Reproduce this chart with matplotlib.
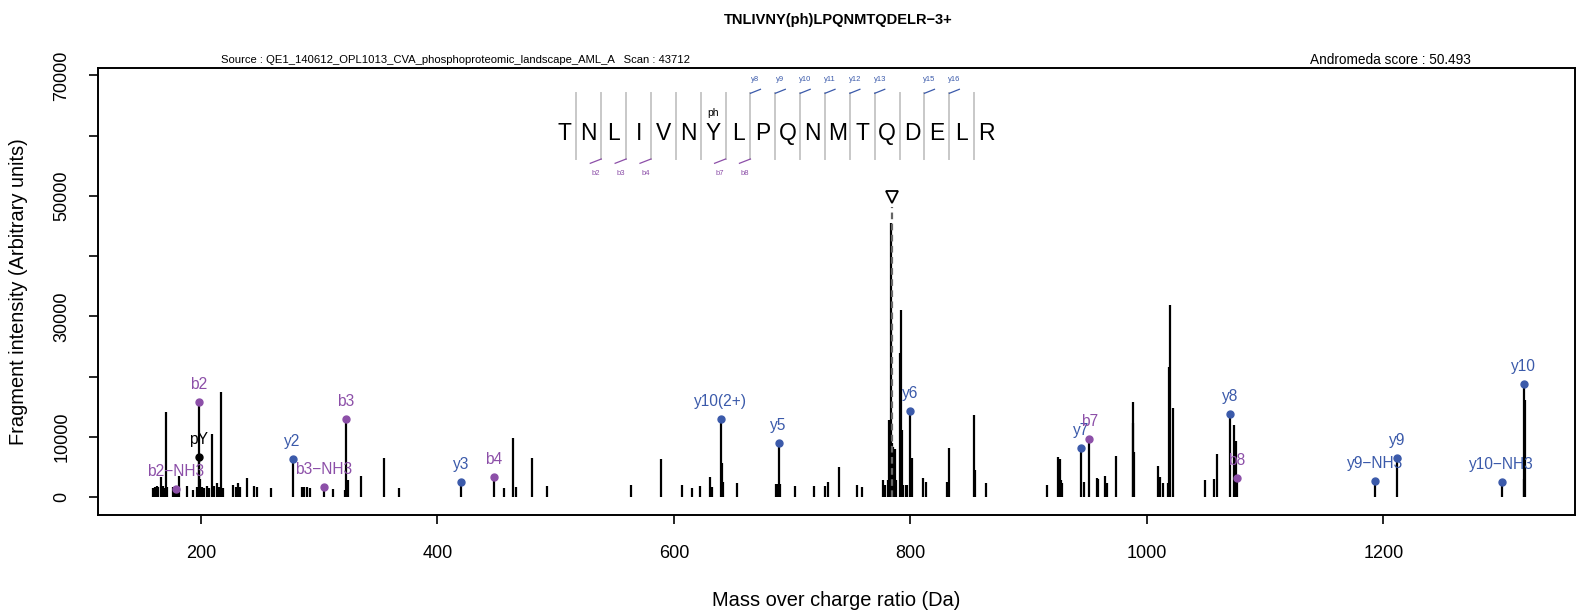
import matplotlib
matplotlib.use('Agg')
import matplotlib.pyplot as plt
from matplotlib.transforms import Affine2D

plt.rcParams['font.family'] = ['Liberation Sans', 'DejaVu Sans']

# unannotated fragment peaks (m/z as read on the axis, intensity)
peak_mz = [159.2, 160.8, 162.5, 163.9, 165.9, 167.6, 168.7, 170.4, 171.5, 176.6,
           178.0, 180.3, 181.6, 187.9, 193.5, 196.9, 199.2, 200.6, 202.5, 204.8,
           206.8, 209.0, 211.0, 213.8, 215.0, 216.7, 218.4, 227.3, 229.3, 231.0,
           233.0, 238.6, 244.8, 247.6, 258.9, 285.7, 287.4, 289.4, 292.2, 311.9,
           321.8, 324.1, 335.1, 354.8, 367.7, 456.2, 464.1, 466.1, 479.7, 492.3,
           563.6, 588.8, 606.5, 615.0, 622.0, 630.4, 631.9, 640.3, 641.7, 653.0,
           686.3, 687.4, 689.6, 702.6, 718.1, 728.0, 730.0, 739.3, 754.5, 759.0,
           776.5, 778.4, 781.2, 782.1, 783.2, 784.0, 785.5, 786.6, 787.7, 791.1,
           792.0, 793.2, 794.0, 796.3, 797.4, 801.0, 810.8, 813.1, 831.1, 832.8,
           854.0, 854.8, 863.8, 915.7, 925.0, 926.2, 927.0, 928.1, 946.7, 957.5,
           958.6, 964.5, 966.4, 973.5, 987.9, 988.4, 989.3, 1009.6, 1011.3, 1013.3,
           1018.0, 1018.9, 1019.5, 1021.7, 1049.1, 1057.0, 1059.5, 1073.8, 1075.0,
           1319.2, 1319.5]
peak_int = [1490, 1760, 1870, 1660, 3420, 1870, 1490, 14200, 1660, 1660,
            1870, 1490, 3530, 1870, 1210, 1760, 2990, 1660, 1490, 1870,
            1490, 10500, 1870, 2320, 1760, 17420, 1490, 2040, 1660, 2320,
            1760, 3250, 1870, 1660, 1490, 1660, 1660, 1660, 1490, 1330,
            1210, 2870, 3590, 6470, 1490, 1490, 9790, 1760, 6470, 1870,
            2040, 6350, 1990, 1600, 1870, 3420, 1660, 5640, 2590, 2420,
            2210, 2210, 2210, 1870, 1870, 1870, 2540, 5080, 2040, 1760,
            2870, 2040, 2800, 12820, 45560, 8960, 8400, 8000, 2900, 23890,
            31070, 11170, 2000, 2000, 2000, 6520, 3150, 2600, 2600, 8130,
            13650, 4530, 2420, 2040, 6630, 6300, 2870, 2320, 2490, 3250,
            2990, 3530, 2420, 6850, 12380, 15860, 7570, 5240, 3420, 2420,
            2420, 21550, 31900, 14760, 2870, 2990, 7180, 12000, 9390,
            3000, 16200]

# annotated fragment ions
ion_label = ['b2\u2212NH3', 'b2', 'pY', 'y2', 'b3\u2212NH3', 'b3', 'y3', 'b4',
             'y10(2+)', 'y5', 'y6', 'y7', 'b7', 'y8', 'b8', 'y9\u2212NH3', 'y9',
             'y10\u2212NH3', 'y10']
ion_mz = [178.9, 198.0, 198.0, 277.5, 303.8, 322.6, 420.1, 447.5,
          639.7, 688.5, 799.8, 944.5, 951.2, 1070.2, 1075.8, 1192.6, 1211.3,
          1299.9, 1318.6]
ion_int = [1330, 15760, 6740, 6350, 1660, 13040, 2490, 3320,
           13040, 9060, 14320, 8180, 9670, 13820, 3250, 2670, 6500,
           2500, 18880]
ion_kind = ['b', 'b', 'imm', 'y', 'b', 'b', 'y', 'b',
            'y', 'y', 'y', 'y', 'b', 'y', 'b', 'y', 'y', 'y', 'y']

precursor_mz = 784.6
precursor_marker = 49870

sequence = list('TNLIVNYLPQNMTQDELR')
phospho_pos = 6
b_cov = [2, 3, 4, 7, 8]
y_cov = [8, 9, 10, 11, 12, 13, 15, 16]

xticks = [200, 400, 600, 800, 1000, 1200]
yticks = list(range(0, 70001, 10000))
ytick_labels = ['0', '10000', '', '30000', '', '50000', '', '70000']

title = 'TNLIVNY(ph)LPQNMTQDELR\u22123+'
source_txt = 'Source : QE1_140612_OPL1013_CVA_phosphoproteomic_landscape_AML_A   Scan : 43712'
score_txt = 'Andromeda score : 50.493'

colors = {'b': '#8c4fa8', 'y': '#3b5aaa', 'imm': 'black'}

W, H = 1578, 611
fig = plt.figure(figsize=(W / 100, H / 100), dpi=100)
L, R, T, B = 97.6, 1575, 68.4, 515.4
ax = fig.add_axes([L / W, (H - B) / H, (R - L) / W, (B - T) / H])
pix = Affine2D().scale(1 / W, -1 / H).translate(0, 1) + fig.transFigure

ax.vlines(peak_mz, 0, peak_int, color='black', lw=1.6)
ax.vlines(ion_mz, 0, ion_int, color='black', lw=1.6)

# precursor
ax.plot([precursor_mz, precursor_mz], [0, precursor_marker - 1700], color='#666666',
        lw=1.6, ls=(0, (3, 2)))
ax.plot(precursor_mz, precursor_marker, marker='v', ms=9, mfc='white', mec='black', mew=1.3)

for lab, mz, it, k in zip(ion_label, ion_mz, ion_int, ion_kind):
    ax.plot(mz, it, 'o', ms=5, color=colors[k])
    ax.annotate(lab, (mz, it), xytext=(0, 12.5), textcoords='offset points',
                ha='center', va='center', fontsize=11.2, color=colors[k])

ax.set_xlim(112.6, 1362)
ax.set_ylim(-3000, 71150)
ax.set_xticks(xticks)
ax.set_yticks(yticks)
ax.set_yticklabels(ytick_labels)
ax.tick_params(direction='out', length=6.5, width=1.2, labelsize=13)
ax.tick_params(axis='x', pad=15)
ax.tick_params(axis='y', pad=13)
plt.setp(ax.get_yticklabels(), rotation=90, va='center')
for s in ax.spines.values():
    s.set_linewidth(1.4)

ax.set_xlabel('Mass over charge ratio (Da)', fontsize=14.4)
ax.set_ylabel('Fragment intensity (Arbitrary units)', fontsize=14.4)
ax.xaxis.set_label_coords((836.3 - L) / (R - L), (B - 601) / (B - T))
ax.xaxis.label.set_va('center')
ax.yaxis.set_label_coords((18.1 - L) / (R - L), 0.5)
ax.yaxis.label.set_va('center')

fig.text(838, 20.1, title, transform=pix, ha='center', va='center',
         fontsize=10.5, fontweight='bold')
fig.text(221.4, 60.4, source_txt, transform=pix, ha='left', va='center', fontsize=8.1)
fig.text(1390, 60.4, score_txt, transform=pix, ha='center', va='center', fontsize=9.8)

# sequence coverage map
x0, step = 564.0, 24.86
y_mid, y_top, y_bot = 133.3, 93.3, 159.0
for i, aa in enumerate(sequence):
    fig.text(x0 + i * step, y_mid, aa, transform=pix, ha='center', va='center', fontsize=16.5)
    if i == phospho_pos:
        fig.text(x0 + i * step, 113.5, 'ph', transform=pix, ha='center', va='center', fontsize=7.5)
for k in range(1, len(sequence)):
    xs = x0 + (k - 0.5) * step
    fig.add_artist(plt.Line2D([xs, xs], [y_top, y_bot], transform=pix, color='#c8c8c8', lw=1.4))
    if k in b_cov:
        fig.add_artist(plt.Line2D([xs - 11, xs], [y_bot + 4.3, y_bot], transform=pix,
                                  color=colors['b'], lw=0.9))
        fig.text(xs - 5.5, 173.3, 'b%d' % k, transform=pix, ha='center', va='center',
                 fontsize=5.5, color=colors['b'])
    if k in y_cov:
        fig.add_artist(plt.Line2D([xs, xs + 10], [y_top, y_top - 4], transform=pix,
                                  color=colors['y'], lw=0.9))
        fig.text(xs + 5, 79.3, 'y%d' % k, transform=pix, ha='center', va='center',
                 fontsize=5.5, color=colors['y'])

fig.savefig('out.png', dpi=100)
